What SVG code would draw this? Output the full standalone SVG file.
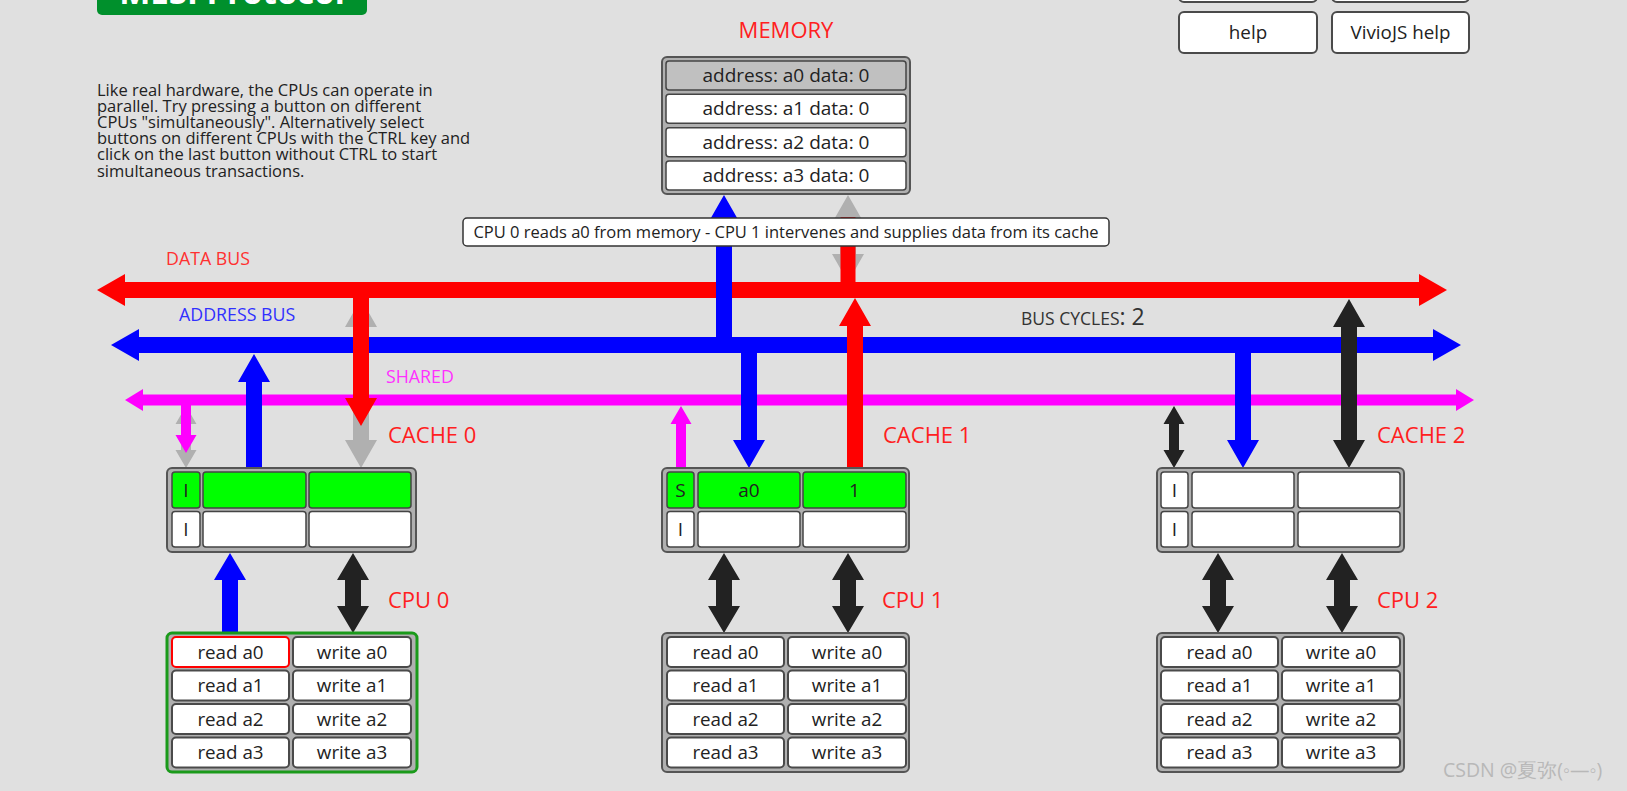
<svg xmlns="http://www.w3.org/2000/svg" xmlns:xlink="http://www.w3.org/1999/xlink" width="1627" height="791" viewBox="0 0 1627 791">
<style>
text{font-family:"Open Sans","Liberation Sans",sans-serif;}
.t{fill:#222;font-size:18.8px;text-anchor:middle;}
.mt{fill:#222;font-size:19px;text-anchor:middle;}
.lbl{fill:#ff2020;font-size:22px;}
.outer{fill:#b0b0b0;stroke:#555;stroke-width:2;}
.cell{fill:#fff;stroke:#444;stroke-width:1.5;}
.g{fill:#00ff00;}
.btn{fill:#fff;stroke:#4a4a4a;stroke-width:2;}
.para{fill:#222;font-size:16.5px;}
.blk{fill:#222;}
.gry{fill:#b0b0b0;}
.bus{font-size:17.8px;}
</style>
<defs>
<polygon id="dbl80" points="0,0 16,27 8,27 8,53 16,53 0,80 -16,53 -8,53 -8,27 -16,27"/>
</defs>
<rect x="0" y="0" width="1627" height="791" fill="#e0e0e0"/>

<g id="title">
<rect x="97" y="-30" width="270" height="45" rx="5" fill="#00902c"/>
<text x="232" y="4" font-size="33" font-weight="bold" fill="#fff" text-anchor="middle">MESI Protocol</text>
</g>

<g id="description">
<text class="para" x="97" y="95.5">Like real hardware, the CPUs can operate in</text>
<text class="para" x="97" y="111.7">parallel. Try pressing a button on different</text>
<text class="para" x="97" y="127.9">CPUs "simultaneously". Alternatively select</text>
<text class="para" x="97" y="144.1">buttons on different CPUs with the CTRL key and</text>
<text class="para" x="97" y="160.3">click on the last button without CTRL to start</text>
<text class="para" x="97" y="176.5">simultaneous transactions.</text>
</g>

<g id="top-buttons">
<rect class="btn" x="1179" y="-40" width="138" height="42" rx="5"/>
<rect class="btn" x="1332" y="-40" width="137" height="42" rx="5"/>
<rect class="btn" x="1179" y="12" width="138" height="41" rx="5"/>
<text class="t" x="1248" y="38.5">help</text>
<rect class="btn" x="1332" y="12" width="137" height="41" rx="5"/>
<text class="t" x="1400.5" y="38.5">VivioJS help</text>
</g>

<g id="buses">
<polygon fill="#ff0000" points="97,290 125,274 125,282 1419,282 1419,274 1447,290 1419,306 1419,298 125,298 125,306"/>
<polygon fill="#0000ff" points="111,345 139,329 139,337 1433,337 1433,329 1461,345 1433,361 1433,353 139,353 139,361"/>
<polygon fill="#ff00ff" points="125,400 143,389 143,394.5 1456,394.5 1456,389 1474,400 1456,411 1456,405.5 143,405.5 143,411"/>
<text class="bus" x="166" y="265" fill="#ff3030">DATA BUS</text>
<text class="bus" x="179" y="321" fill="#3030ff">ADDRESS BUS</text>
<text class="bus" x="386" y="383" fill="#ff30ff">SHARED</text>
<text x="1021" y="325" fill="#333"><tspan font-size="17.5">BUS CYCLES</tspan><tspan font-size="23">: 2</tspan></text>
</g>

<g id="connectors">
<polygon fill="#0000ff" points="724,195 740,223 732,223 732,345 716,345 716,223 708,223"/>
<polygon class="gry" points="848,195 864,223 856,223 856,254 864,254 848,282 832,254 840,254 840,223 832,223"/>
<rect x="840.5" y="217" width="15" height="75" fill="#ff0000"/>

<polygon class="gry" points="361,299 377,327 369,327 369,440 377,440 361,468 345,440 353,440 353,327 345,327"/>
<polygon fill="#ff0000" points="353,290 369,290 369,398 377,398 361,426 345,398 353,398"/>
<polygon fill="#0000ff" points="254,354 270,382 262,382 262,468 246,468 246,382 238,382"/>
<polygon class="gry" points="186,406 196.5,424 191,424 191,450 196.5,450 186,468 175.5,450 181,450 181,424 175.5,424"/>
<polygon fill="#ff00ff" points="181,400 191,400 191,435 196.5,435 186,453 175.5,435 181,435"/>

<polygon fill="#ff00ff" points="681,406 691.5,424 686,424 686,468 676,468 676,424 670.5,424"/>
<polygon fill="#0000ff" points="741,345 757,345 757,440 765,440 749,468 733,440 741,440"/>
<polygon fill="#ff0000" points="855,298 871,326 863,326 863,468 847,468 847,326 839,326"/>

<polygon class="blk" points="1174,406 1184.5,424 1179,424 1179,450 1184.5,450 1174,468 1163.5,450 1169,450 1169,424 1163.5,424"/>
<polygon fill="#0000ff" points="1235,345 1251,345 1251,440 1259,440 1243,468 1227,440 1235,440"/>
<polygon class="blk" points="1349,299 1365,327 1357,327 1357,440 1365,440 1349,468 1333,440 1341,440 1341,327 1333,327"/>

<polygon fill="#0000ff" points="230,553 246,580 238,580 238,633 222,633 222,580 214,580"/>
<use xlink:href="#dbl80" class="blk" transform="translate(353,553)"/>
<use xlink:href="#dbl80" class="blk" transform="translate(724,553)"/>
<use xlink:href="#dbl80" class="blk" transform="translate(848,553)"/>
<use xlink:href="#dbl80" class="blk" transform="translate(1218,553)"/>
<use xlink:href="#dbl80" class="blk" transform="translate(1342,553)"/>
</g>

<g id="memory">
<text class="lbl" x="786" y="38" text-anchor="middle">MEMORY</text>
<rect class="outer" x="662" y="57" width="248" height="137" rx="5"/>
<rect class="cell" x="666" y="61" width="240" height="29" rx="3" style="fill:#c0c0c0"/>
<text class="mt" x="786" y="82">address: a0 data: 0</text>
<rect class="cell" x="666" y="94.3" width="240" height="29" rx="3"/>
<text class="mt" x="786" y="115.3">address: a1 data: 0</text>
<rect class="cell" x="666" y="127.7" width="240" height="29" rx="3"/>
<text class="mt" x="786" y="148.7">address: a2 data: 0</text>
<rect class="cell" x="666" y="161" width="240" height="29" rx="3"/>
<text class="mt" x="786" y="182">address: a3 data: 0</text>
</g>

<g id="tooltip">
<rect x="463" y="218" width="646" height="28" rx="4" fill="#fff" stroke="#333" stroke-width="1.5"/>
<text x="786" y="238" font-size="16.5" fill="#222" text-anchor="middle">CPU 0 reads a0 from memory - CPU 1 intervenes and supplies data from its cache</text>
</g>

<g id="cache0">
<text class="lbl" x="388" y="443">CACHE 0</text>
<rect class="outer" x="167" y="468" width="249" height="84" rx="5"/>
<rect class="cell g" x="172" y="472" width="28" height="36" rx="3"/>
<text class="mt" x="186" y="496.5">I</text>
<rect class="cell g" x="203" y="472" width="103" height="36" rx="3"/>
<rect class="cell g" x="309" y="472" width="102" height="36" rx="3"/>
<rect class="cell" x="172" y="511.5" width="28" height="35.5" rx="3"/>
<text class="mt" x="186" y="535.5">I</text>
<rect class="cell" x="203" y="511.5" width="103" height="35.5" rx="3"/>
<rect class="cell" x="309" y="511.5" width="102" height="35.5" rx="3"/>
</g>

<g id="cache1">
<text class="lbl" x="883" y="443">CACHE 1</text>
<rect class="outer" x="662" y="468" width="247" height="84" rx="5"/>
<rect class="cell g" x="667" y="472" width="27" height="36" rx="3"/>
<text class="mt" x="680.5" y="496.5">S</text>
<rect class="cell g" x="698" y="472" width="102" height="36" rx="3"/>
<text class="mt" x="749" y="496.5">a0</text>
<rect class="cell g" x="803" y="472" width="103" height="36" rx="3"/>
<text class="mt" x="854.5" y="496.5">1</text>
<rect class="cell" x="667" y="511.5" width="27" height="35.5" rx="3"/>
<text class="mt" x="680.5" y="535.5">I</text>
<rect class="cell" x="698" y="511.5" width="102" height="35.5" rx="3"/>
<rect class="cell" x="803" y="511.5" width="103" height="35.5" rx="3"/>
</g>

<g id="cache2">
<text class="lbl" x="1377" y="443">CACHE 2</text>
<rect class="outer" x="1157" y="468" width="247" height="84" rx="5"/>
<rect class="cell" x="1161" y="472" width="27" height="36" rx="3"/>
<text class="mt" x="1174.5" y="496.5">I</text>
<rect class="cell" x="1192" y="472" width="102" height="36" rx="3"/>
<rect class="cell" x="1298" y="472" width="102" height="36" rx="3"/>
<rect class="cell" x="1161" y="511.5" width="27" height="35.5" rx="3"/>
<text class="mt" x="1174.5" y="535.5">I</text>
<rect class="cell" x="1192" y="511.5" width="102" height="35.5" rx="3"/>
<rect class="cell" x="1298" y="511.5" width="102" height="35.5" rx="3"/>
</g>

<g id="cpu0">
<text class="lbl" x="388" y="608">CPU 0</text>
<rect x="167" y="633" width="250" height="139" rx="5" fill="#b0b0b0" stroke="#1a9a1a" stroke-width="3"/>
<rect class="btn" x="172" y="637" width="117" height="30" rx="4" style="stroke:#ff0000"/>
<text class="t" x="230.5" y="658.5">read a0</text>
<rect class="btn" x="293" y="637" width="118" height="30" rx="4"/>
<text class="t" x="352" y="658.5">write a0</text>
<rect class="btn" x="172" y="670.5" width="117" height="30" rx="4"/>
<text class="t" x="230.5" y="692">read a1</text>
<rect class="btn" x="293" y="670.5" width="118" height="30" rx="4"/>
<text class="t" x="352" y="692">write a1</text>
<rect class="btn" x="172" y="704" width="117" height="30" rx="4"/>
<text class="t" x="230.5" y="725.5">read a2</text>
<rect class="btn" x="293" y="704" width="118" height="30" rx="4"/>
<text class="t" x="352" y="725.5">write a2</text>
<rect class="btn" x="172" y="737.5" width="117" height="30" rx="4"/>
<text class="t" x="230.5" y="759">read a3</text>
<rect class="btn" x="293" y="737.5" width="118" height="30" rx="4"/>
<text class="t" x="352" y="759">write a3</text>
</g>

<g id="cpu1">
<text class="lbl" x="882" y="608">CPU 1</text>
<rect class="outer" x="662" y="633" width="247" height="139" rx="5"/>
<rect class="btn" x="667" y="637" width="117" height="30" rx="4"/>
<text class="t" x="725.5" y="658.5">read a0</text>
<rect class="btn" x="788" y="637" width="118" height="30" rx="4"/>
<text class="t" x="847" y="658.5">write a0</text>
<rect class="btn" x="667" y="670.5" width="117" height="30" rx="4"/>
<text class="t" x="725.5" y="692">read a1</text>
<rect class="btn" x="788" y="670.5" width="118" height="30" rx="4"/>
<text class="t" x="847" y="692">write a1</text>
<rect class="btn" x="667" y="704" width="117" height="30" rx="4"/>
<text class="t" x="725.5" y="725.5">read a2</text>
<rect class="btn" x="788" y="704" width="118" height="30" rx="4"/>
<text class="t" x="847" y="725.5">write a2</text>
<rect class="btn" x="667" y="737.5" width="117" height="30" rx="4"/>
<text class="t" x="725.5" y="759">read a3</text>
<rect class="btn" x="788" y="737.5" width="118" height="30" rx="4"/>
<text class="t" x="847" y="759">write a3</text>
</g>

<g id="cpu2">
<text class="lbl" x="1377" y="608">CPU 2</text>
<rect class="outer" x="1157" y="633" width="247" height="139" rx="5"/>
<rect class="btn" x="1161" y="637" width="117" height="30" rx="4"/>
<text class="t" x="1219.5" y="658.5">read a0</text>
<rect class="btn" x="1282" y="637" width="118" height="30" rx="4"/>
<text class="t" x="1341" y="658.5">write a0</text>
<rect class="btn" x="1161" y="670.5" width="117" height="30" rx="4"/>
<text class="t" x="1219.5" y="692">read a1</text>
<rect class="btn" x="1282" y="670.5" width="118" height="30" rx="4"/>
<text class="t" x="1341" y="692">write a1</text>
<rect class="btn" x="1161" y="704" width="117" height="30" rx="4"/>
<text class="t" x="1219.5" y="725.5">read a2</text>
<rect class="btn" x="1282" y="704" width="118" height="30" rx="4"/>
<text class="t" x="1341" y="725.5">write a2</text>
<rect class="btn" x="1161" y="737.5" width="117" height="30" rx="4"/>
<text class="t" x="1219.5" y="759">read a3</text>
<rect class="btn" x="1282" y="737.5" width="118" height="30" rx="4"/>
<text class="t" x="1341" y="759">write a3</text>
</g>

<g id="watermark">
<text x="1443" y="777" font-size="19.5" fill="#b8b8b8" font-family="'Open Sans','Noto Sans CJK SC',sans-serif">CSDN @夏弥(◦—◦)</text>
</g>
</svg>
